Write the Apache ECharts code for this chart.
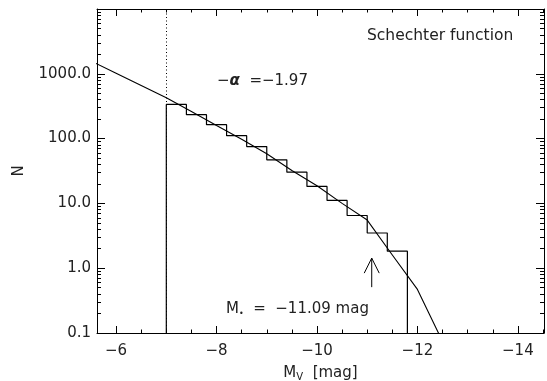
<!DOCTYPE html>
<html>
<head>
<meta charset="utf-8">
<script src="https://cdn.jsdelivr.net/npm/echarts@6/dist/echarts.min.js"></script>
<style>html,body{margin:0;padding:0;background:#fff}#c{width:547px;height:381px}</style>
</head>
<body>
<div id="c"></div>
<script>
// ---- data ----
const binEdges = [-7.0, -7.4, -7.8, -8.2, -8.6, -9.0, -9.4, -9.8, -10.2, -10.6, -11.0, -11.4, -11.8];
const binCounts = [337, 234, 164, 111, 75.4, 47, 30.3, 18.3, 11.1, 6.5, 3.49, 1.83];
const curveMag = [-5.6, -6.0, -6.5, -7.0, -7.5, -8.0, -8.5, -9.0, -9.5, -10.0, -10.5, -11.0, -11.5, -12.0, -12.5];
const curveN = [1445, 1023, 661, 428, 261, 159, 98, 58.5, 32.1, 18.7, 10.0, 5.53, 1.60, 0.47, 0.074];
const limitMag = -7.0;
const mStar = -11.09;
const alphaVal = -1.97;
const arrowSpan = [0.51, 1.43];
const xMajorTicks = [-6, -8, -10, -12, -14];
const xMinorTicks = [-6.5, -7, -7.5, -8.5, -9, -9.5, -10.5, -11, -11.5, -12.5, -13, -13.5, -14.5];
const yMajorTicks = [0.1, 1, 10, 100, 1000, 10000];
const yLabelTicks = [0.1, 1, 10, 100, 1000];
const yMinorTicks = [];
[0.1, 1, 10, 100, 1000].forEach(d => { for (let k = 2; k <= 9; k++) yMinorTicks.push(+(d * k).toPrecision(3)); });
const xRange = [-14.52, -5.62];
const yRange = [0.1, 10000];

// ---- build plotted structures ----
const histPts = [[binEdges[0], yRange[0]]];
for (let i = 0; i < binCounts.length; i++) {
  histPts.push([binEdges[i], binCounts[i]]);
  histPts.push([binEdges[i + 1], binCounts[i]]);
}
histPts.push([binEdges[binEdges.length - 1], yRange[0]]);
const curvePts = curveMag.map((m, i) => [m, curveN[i]]);

const FONT = 'DejaVu Sans';
const TXT = '#222';
const LINE = {color: '#000', width: 1};
const fmtX = v => (v < 0 ? '\u2212' + Math.abs(v) : String(v));

function xAx(pos, ticks, len, main) {
  return {
    type: 'value', position: pos, min: xRange[0], max: xRange[1], inverse: true,
    axisLine: {show: main, onZero: false, lineStyle: LINE},
    axisTick: {show: true, inside: true, length: len, customValues: ticks, lineStyle: LINE},
    axisLabel: {show: main && pos === 'bottom', customValues: xMajorTicks, formatter: fmtX,
      color: TXT, fontFamily: FONT, fontSize: 15, margin: 11},
    splitLine: {show: false},
    name: main && pos === 'bottom' ? '{m|M}{s|V}{m|  [mag]}' : '',
    nameLocation: 'middle', nameGap: 25,
    nameTextStyle: {color: TXT, fontFamily: FONT, rich: {
      m: {fontSize: 15, fontFamily: FONT, color: TXT, lineHeight: 15},
      s: {fontSize: 10, fontFamily: FONT, color: TXT, lineHeight: 10, padding: [9, 0, 0, 0]}
    }}
  };
}
function yAx(pos, ticks, len, main) {
  return {
    type: 'log', logBase: 10, position: pos, min: yRange[0], max: yRange[1],
    axisLine: {show: main, onZero: false, lineStyle: LINE},
    axisTick: {show: true, inside: true, length: len, customValues: ticks, lineStyle: LINE},
    axisLabel: {show: main && pos === 'left', customValues: yLabelTicks,
      formatter: v => Number(v).toFixed(1),
      color: TXT, fontFamily: FONT, fontSize: 15, margin: 6},
    splitLine: {show: false},
    minorTick: {show: false},
    name: main && pos === 'left' ? 'N' : '',
    nameLocation: 'middle', nameGap: 70, nameRotate: 90,
    nameTextStyle: {color: TXT, fontFamily: FONT, fontSize: 15}
  };
}

const chart = echarts.init(document.getElementById('c'), null, {renderer: 'canvas'});
chart.setOption({
  animation: false,
  backgroundColor: '#fff',
  textStyle: {fontFamily: FONT},
  grid: {left: 97, right: 3, top: 9, bottom: 48, containLabel: false, outerBoundsMode: 'none'},
  xAxis: [
    xAx('bottom', xMajorTicks, 7, true),
    xAx('top', xMajorTicks, 7, true),
    xAx('bottom', xMinorTicks, 3.5, false),
    xAx('top', xMinorTicks, 3.5, false)
  ],
  yAxis: [
    yAx('left', yMajorTicks, 8, true),
    yAx('right', yMajorTicks, 8, true),
    yAx('left', yMinorTicks, 4, false),
    yAx('right', yMinorTicks, 4, false)
  ],
  series: [
    {
      type: 'line', name: 'histogram', data: histPts, showSymbol: false, symbol: 'none',
      lineStyle: {color: '#000', width: 1.2}, xAxisIndex: 0, yAxisIndex: 0, silent: true,
      markLine: {
        silent: true, symbol: 'none', label: {show: false},
        lineStyle: {color: '#000', width: 1, type: [1, 2.5]},
        data: [{xAxis: limitMag}]
      }
    },
    {
      type: 'line', name: 'schechter', data: curvePts, showSymbol: false, symbol: 'none',
      lineStyle: {color: '#000', width: 1.1}, xAxisIndex: 0, yAxisIndex: 0, silent: true
    },
    {
      type: 'custom', name: 'arrow', xAxisIndex: 0, yAxisIndex: 0, silent: true,
      data: [[mStar, arrowSpan[0], arrowSpan[1]]],
      renderItem: function (params, api) {
        const p0 = api.coord([api.value(0), api.value(1)]);
        const p1 = api.coord([api.value(0), api.value(2)]);
        return {
          type: 'group', children: [
            {type: 'polyline', shape: {points: [p0, p1]}, style: {stroke: '#000', lineWidth: 1, fill: null}},
            {type: 'polyline', shape: {points: [[p1[0] - 7.5, p1[1] + 15], p1, [p1[0] + 7.5, p1[1] + 15]]},
              style: {stroke: '#000', lineWidth: 1, fill: null}}
          ]
        };
      }
    }
  ],
  graphic: [
    {type: 'text', left: 367, top: 28, silent: true,
      style: {text: 'Schechter function', fill: TXT, font: '15.5px "' + FONT + '"'}},
    {type: 'text', left: 217, top: 74, silent: true,
      style: {text: '{t|\u2212}{a|\u03b1}{t|  =\u2212' + Math.abs(alphaVal).toFixed(2) + '}', fill: TXT,
        rich: {
          t: {fontSize: 15, fontFamily: FONT, fill: TXT, color: TXT},
          a: {fontSize: 15, fontFamily: FONT, fontStyle: 'italic', fontWeight: 'bold', color: TXT, fill: TXT}
        }}},
    {type: 'text', left: 226, top: 300, silent: true,
      style: {text: '{t|M}{d|\u2022}{t|  =  \u2212' + Math.abs(mStar).toFixed(2) + ' mag}', fill: TXT,
        rich: {
          t: {fontSize: 15, fontFamily: FONT, color: TXT, fill: TXT, lineHeight: 15},
          d: {fontSize: 8, fontFamily: FONT, color: TXT, fill: TXT, lineHeight: 8, padding: [10, 0, 0, 0]}
        }}}
  ]
});
</script>
</body>
</html>
